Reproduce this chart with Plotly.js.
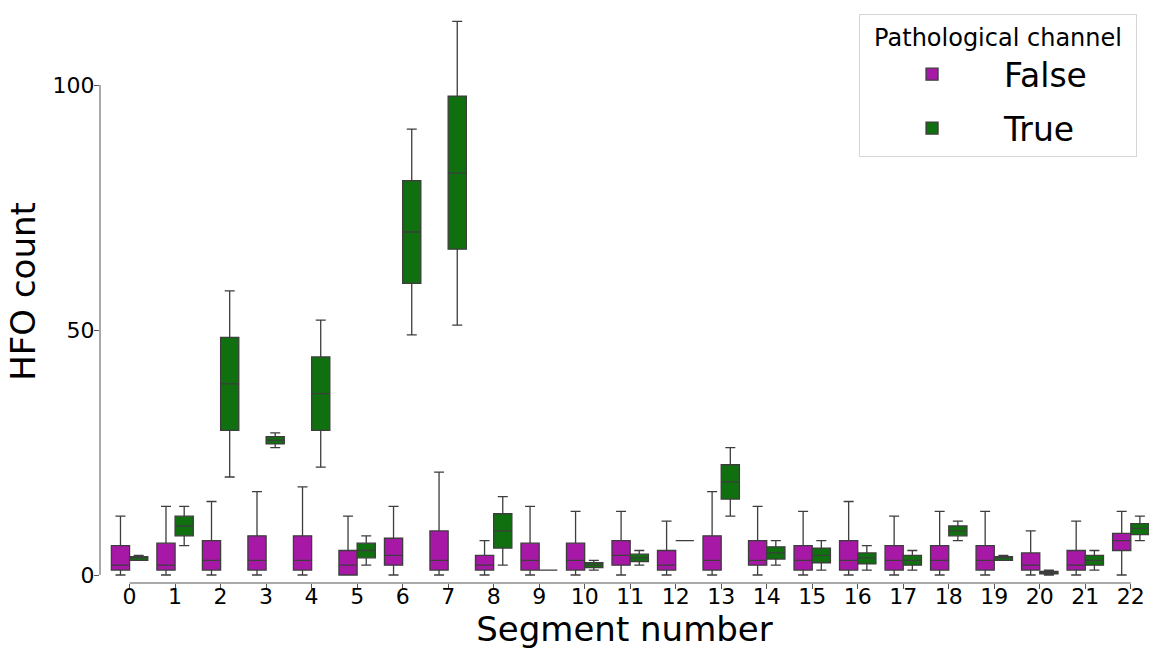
<!DOCTYPE html>
<html>
<head>
<meta charset="utf-8">
<script src="https://cdn.plot.ly/plotly-3.0.1.min.js"></script>
<style>
  html, body { margin: 0; padding: 0; background: #fff; }
  #chart { width: 1149px; height: 649px; }
</style>
</head>
<body>
<div id="chart"></div>
<script>
// Segment categories
const segments = ["0","1","2","3","4","5","6","7","8","9","10","11","12","13","14","15","16","17","18","19","20","21","22"];

// Pathological channel = False (box statistics per segment)
const falseLower = [0, 0, 0, 0, 0, 0, 0, 0, 0, 0, 0, 0, 0, 0, 0, 0, 0, 0, 0, 0, 0, 0, 0];
const falseQ1    = [1, 1, 1, 1, 1, 0, 2, 1, 1, 1, 1, 2, 1, 1, 2, 1, 1, 1, 1, 1, 1, 1, 5];
const falseMed   = [2, 2, 3, 3, 3, 2, 4, 3, 2, 3, 3, 4, 2, 3, 3, 3, 3, 3, 3, 3, 2, 2, 7];
const falseQ3    = [6, 6.5, 7, 8, 8, 5, 7.5, 9, 4, 6.5, 6.5, 7, 5, 8, 7, 6, 7, 6, 6, 6, 4.5, 5, 8.5];
const falseUpper = [12, 14, 15, 17, 18, 12, 14, 21, 7, 14, 13, 13, 11, 17, 14, 13, 15, 12, 13, 13, 9, 11, 13];

// Pathological channel = True (box statistics per segment)
const trueLower = [3, 6, 20, 26, 22, 2, 49, 51, 2, 1, 1, 2, 7, 12, 2, 1, 1, 1, 7, 3, 0, 1, 7];
const trueQ1    = [3, 8, 29.5, 26.75, 29.5, 3.5, 59.5, 66.5, 5.5, 1, 1.5, 2.75, 7, 15.5, 3.25, 2.5, 2.25, 2, 8, 3, 0.25, 2, 8.25];
const trueMed   = [3.5, 10, 39, 27.5, 37, 5, 70, 82, 9, 1, 2, 3.5, 7, 19, 4.5, 4, 3.5, 3, 9, 3.5, 0.5, 3, 9.5];
const trueQ3    = [3.75, 12, 48.5, 28.25, 44.5, 6.5, 80.5, 97.75, 12.5, 1, 2.5, 4.25, 7, 22.5, 5.75, 5.5, 4.5, 4, 10, 3.75, 0.75, 4, 10.5];
const trueUpper = [4, 14, 58, 29, 52, 8, 91, 113, 16, 1, 3, 5, 7, 26, 7, 7, 6, 5, 11, 4, 1, 5, 12];

// Axis tick labels
const yTicks = [0, 50, 100];

const lineColor = "#3d3d3d";
const fontFamily = "DejaVu Sans, Liberation Sans, sans-serif";

const traces = [
  {
    type: "box",
    name: "False",
    legendgroup: "false",
    x: segments,
    lowerfence: falseLower,
    q1: falseQ1,
    median: falseMed,
    q3: falseQ3,
    upperfence: falseUpper,
    boxpoints: false,
    fillcolor: "#a718a7",
    line: { color: lineColor, width: 1.3 },
    whiskerwidth: 0.55,
    hoverinfo: "skip"
  },
  {
    type: "box",
    name: "True",
    legendgroup: "true",
    x: segments,
    lowerfence: trueLower,
    q1: trueQ1,
    median: trueMed,
    q3: trueQ3,
    upperfence: trueUpper,
    boxpoints: false,
    fillcolor: "#107010",
    line: { color: lineColor, width: 1.3 },
    whiskerwidth: 0.55,
    hoverinfo: "skip"
  }
];

const layout = {
  width: 1149,
  height: 649,
  margin: { l: 100, r: 0, t: 0, b: 66, pad: 0 },
  paper_bgcolor: "#ffffff",
  plot_bgcolor: "#ffffff",
  font: { family: fontFamily, color: "#000000", size: 22 },
  boxmode: "group",
  boxgap: 0.2,
  boxgroupgap: 0,
  showlegend: true,
  xaxis: {
    type: "category",
    categoryorder: "array",
    categoryarray: segments,
    range: [-0.65, 22.4],
    showgrid: false,
    zeroline: false,
    showline: false,
    ticks: "outside",
    ticklen: 5,
    tickwidth: 1,
    tickcolor: "#555555",
    ticklabelstandoff: -11,
    tickfont: { size: 22, family: fontFamily, color: "#000000" },
    title: { text: "Segment number", font: { size: 34, family: fontFamily, color: "#000000" }, standoff: 10 }
  },
  yaxis: {
    range: [-1.633, 117.35],
    tickvals: yTicks,
    ticktext: yTicks.map(String),
    showgrid: false,
    zeroline: false,
    showline: false,
    ticks: "outside",
    ticklen: 5,
    tickwidth: 1,
    tickcolor: "#555555",
    ticklabelstandoff: -5,
    tickfont: { size: 22, family: fontFamily, color: "#000000" },
    title: { text: "HFO count", font: { size: 34, family: fontFamily, color: "#000000" }, standoff: 6 }
  },
  shapes: [
    // trimmed left spine (from first to last y tick)
    { type: "line", xref: "paper", yref: "y", x0: 0, x1: 0, y0: yTicks[0], y1: yTicks[yTicks.length - 1],
      line: { color: "#555555", width: 1 } },
    // trimmed bottom spine (from first to last category)
    { type: "line", xref: "x", yref: "paper", x0: segments[0], x1: segments[segments.length - 1], y0: 0, y1: 0,
      line: { color: "#555555", width: 1 } }
  ],
  legend: {
    x: 0.9886,
    xanchor: "right",
    y: 0.976,
    yanchor: "top",
    bgcolor: "rgba(255,255,255,0.9)",
    bordercolor: "#d6d6d6",
    borderwidth: 1,
    font: { size: 33, family: fontFamily, color: "#000000" },
    title: { text: "\u2002Pathological channel\u2002", side: "top center", font: { size: 24, family: fontFamily, color: "#000000" } },
    itemwidth: 134,
    tracegroupgap: 8
  }
};

Plotly.newPlot("chart", traces, layout, { displayModeBar: false, staticPlot: true });
</script>
</body>
</html>
